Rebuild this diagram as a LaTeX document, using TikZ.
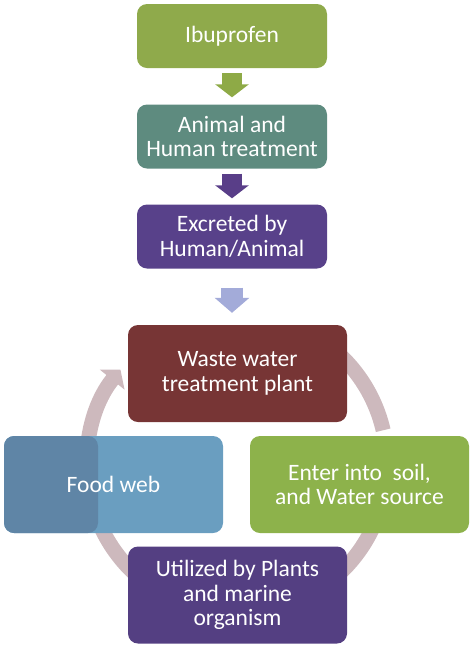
\documentclass[tikz,border=0pt]{standalone}
\usepackage{fontspec}
\setmainfont{Carlito}
\usetikzlibrary{arrows.meta}
\definecolor{IbuGreen}{HTML}{8FAA4B}
\definecolor{TreatTeal}{HTML}{5E8B7F}
\definecolor{ExcPurple}{HTML}{58418A}
\definecolor{WasteRed}{HTML}{773535}
\definecolor{EnterGreen}{HTML}{8DB24B}
\definecolor{UtilPurple}{HTML}{543F82}
\definecolor{FoodDark}{HTML}{5F85A6}
\definecolor{FoodLight}{HTML}{6A9EC0}
\definecolor{ArrGreen}{HTML}{8EAA46}
\definecolor{ArrPurple}{HTML}{593E88}
\definecolor{ArrLavender}{HTML}{A3ABD9}
\definecolor{CycGray}{HTML}{CDB9BD}
\tikzset{
	box/.style={rounded corners=10pt,minimum width=190pt,minimum height=64pt,inner sep=0pt,
		text=white,align=center,font=\fontsize{23.5}{24.5}\selectfont},
	cycbox/.style={box,minimum width=219pt,minimum height=97pt},
	blockarrow/.style={line width=20pt,-{Triangle[width=33pt,length=13pt]}},
	cycarrow/.style={line width=15pt,draw=CycGray}
}
\begin{document}
\begin{tikzpicture}[x=1pt,y=-1pt]
	\useasboundingbox (0,0) rectangle (474,649);
		\coordinate (IbuPos)    at (232,36);
		\coordinate (TreatPos)  at (232,136.5);
		\coordinate (ExcPos)    at (232,236.5);
		\coordinate (WastePos)  at (237.5,373.5);
		\coordinate (FoodPos)   at (113.5,484.5);
		\coordinate (EnterPos)  at (359.5,484.5);
		\coordinate (UtilPos)   at (237.5,595);
		\coordinate (CycCenter) at (237,464);

		\draw [cycarrow] (CycCenter) ++(310:150) arc [start angle=310,end angle=347,radius=150];
		\draw [cycarrow] (CycCenter) ++(20:150) arc [start angle=20,end angle=70,radius=150];
		\draw [cycarrow] (CycCenter) ++(110:150) arc [start angle=110,end angle=160,radius=150];
		\draw [cycarrow,-{Triangle[width=31pt,length=13pt]}] (CycCenter) ++(165:150)
			arc [start angle=165,end angle=219,radius=150];

		\node [box,fill=IbuGreen]    (ibu)   at (IbuPos)   {Ibuprofen};
		\node [box,fill=TreatTeal]   (treat) at (TreatPos) {Animal and\\Human treatment};
		\node [box,fill=ExcPurple]   (exc)   at (ExcPos)   {Excreted by\\Human/Animal};
		\node [cycbox,fill=WasteRed] (waste) at (WastePos) {Waste water\\treatment plant};
		\node [cycbox,fill=FoodLight,path picture={
			\fill [FoodDark] (path picture bounding box.south west)
				rectangle ([xshift=94pt]path picture bounding box.north west);}]
			(food) at (FoodPos) {Food web};
		\node [cycbox,fill=EnterGreen] (enter) at (EnterPos) {Enter into\ \ soil,\\and Water source};
		\node [cycbox,fill=UtilPurple] (util)  at (UtilPos)  {Utilized by Plants\\and marine\\organism};

		\draw [blockarrow,draw=ArrGreen]  ([yshift=-5pt]ibu.south)   -- ([yshift=7pt]treat.north);
		\draw [blockarrow,draw=ArrPurple] ([yshift=-5pt]treat.south) -- ([yshift=6pt]exc.north);
		\draw [blockarrow,draw=ArrLavender,line width=22pt,-{Triangle[width=34pt,length=15pt]}]
			([yshift=-19pt]exc.south) -- ([yshift=12pt]exc.south |- waste.north);
\end{tikzpicture}
\end{document}
